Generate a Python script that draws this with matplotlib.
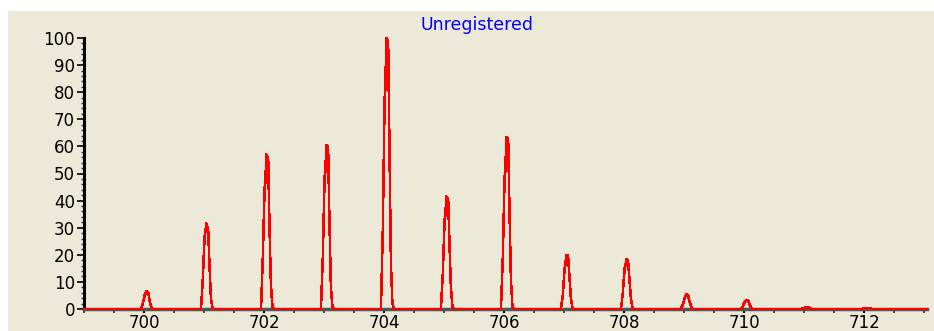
import matplotlib
matplotlib.use("Agg")
import matplotlib.pyplot as plt
from matplotlib.patches import Rectangle
from matplotlib.ticker import MultipleLocator, FixedLocator
import numpy as np

# 质谱同位素峰（每个峰的轮廓点，相对于整数 m/z 的偏移）
peak_centers = [700, 701, 702, 703, 704, 705, 706, 707, 708, 709, 710, 711, 712]
peak_offsets = [-0.05, -0.045, -0.02, 0.01, 0.02, 0.04, 0.06, 0.07, 0.09, 0.115, 0.14, 0.165]
peak_profiles = [
    [0, 0.5, 2, 5, 5.5, 6.5, 6.3, 6, 3.5, 1, 0, 0],
    [0, 2, 11, 27, 28, 31.5, 30, 29, 17, 4, 0.5, 0],
    [0, 3, 19, 45, 46, 57, 56, 55, 32, 9, 1, 0],
    [0, 4, 19, 49, 50, 60.5, 60, 58, 33, 8, 1, 0],
    [0, 6, 29, 78, 80, 100, 99, 97, 60, 17, 2, 0],
    [0, 3, 13, 33, 34, 41.5, 41, 40, 25, 8, 1, 0],
    [0, 4, 19, 49, 50, 63.5, 63, 62, 38, 11, 1, 0],
    [0, 1, 5, 15, 16, 20, 20, 19, 12, 4, 0.5, 0],
    [0, 1, 6, 15, 15.5, 18.5, 18, 17, 11, 4, 0.5, 0],
    [0, 0.5, 1.5, 4, 4.5, 5.5, 5.3, 5, 3, 1, 0, 0],
    [0, 0.3, 1, 2.5, 2.7, 3.2, 3.1, 3, 1.8, 0.6, 0, 0],
    [0, 0, 0.2, 0.5, 0.5, 0.7, 0.7, 0.6, 0.4, 0.1, 0, 0],
    [0, 0, 0.1, 0.3, 0.3, 0.45, 0.45, 0.4, 0.25, 0.1, 0, 0],
]
x_labels = [700, 702, 704, 706, 708, 710, 712]
x_range = (699.0, 713.05)
title = "Unregistered"

BEIGE = "#ECE9D8"

fig = plt.figure(figsize=(9.34, 3.31), dpi=100, facecolor="white")
bg = Rectangle((8 / 934, 0), 1, 320 / 331, transform=fig.transFigure,
               facecolor=BEIGE, edgecolor="none", zorder=-10)
fig.add_artist(bg)

ax = fig.add_axes([84 / 934, 22 / 331, (927 - 84) / 934, 271 / 331])
ax.set_facecolor(BEIGE)
ax.set_zorder(1)

# 拼成连续谱线
mz = [x_range[0]]
inten = [0]
for c, prof in zip(peak_centers, peak_profiles):
    for off, v in zip(peak_offsets, prof):
        mz.append(c + off)
        inten.append(v)
mz.append(x_range[1])
inten.append(0)
ax.plot(mz, inten, color="#FF0000", lw=1.1, zorder=5, clip_on=False,
        antialiased=False)

ax.set_xlim(*x_range)
ax.set_ylim(0, 100)

for s in ("top", "right"):
    ax.spines[s].set_visible(False)
ax.spines["left"].set_linewidth(2.2)
ax.spines["left"].set_color("black")
ax.spines["bottom"].set_linewidth(2.5)
ax.spines["bottom"].set_color("#555555")

ax.yaxis.set_major_locator(MultipleLocator(10))
ax.yaxis.set_minor_locator(MultipleLocator(2))
ax.xaxis.set_major_locator(FixedLocator(x_labels))
ax.xaxis.set_minor_locator(MultipleLocator(0.5))

ax.tick_params(axis="y", which="major", length=5, width=1.2, pad=1.5,
               labelsize=12, colors="black")
ax.tick_params(axis="y", which="minor", length=2.5, width=1, colors="#333333")
ax.tick_params(axis="x", which="major", length=3, width=1.5, pad=0.5,
               labelsize=12, colors="black")
ax.tick_params(axis="x", which="minor", length=3, width=1.2, colors="#222222")

fig.text(477 / 934, 1 - 25 / 331, title, color="#0000FF", fontsize=12.5,
         ha="center", va="center")

fig.savefig("out.png", dpi=100, facecolor="white")
